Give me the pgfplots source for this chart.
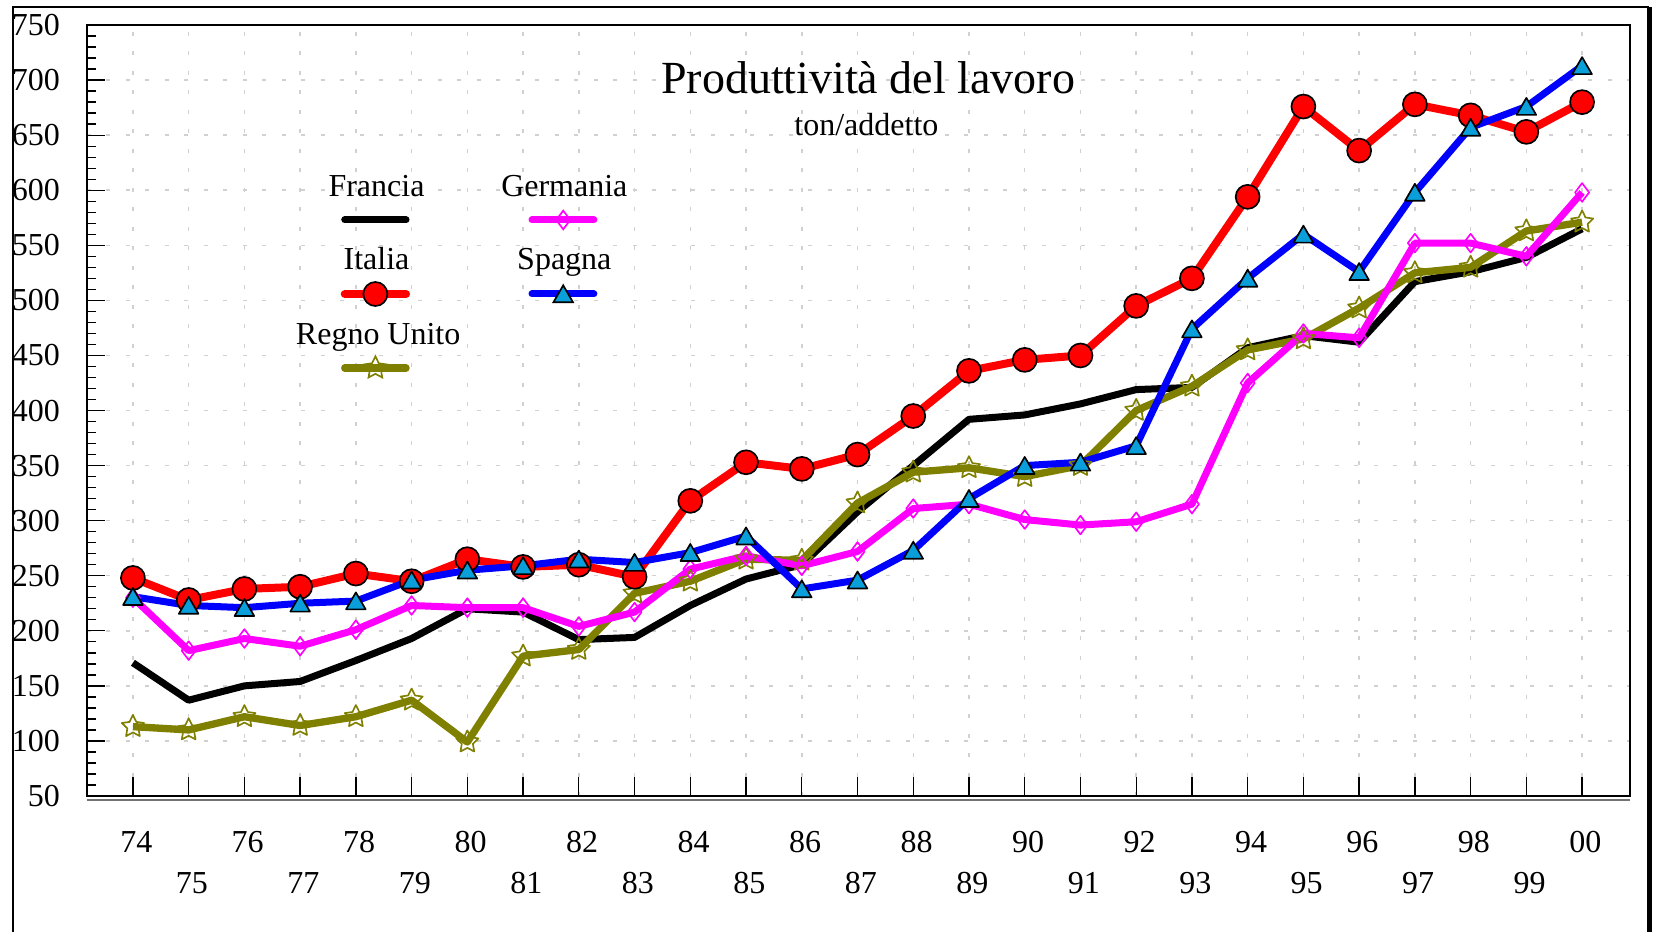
\documentclass[border=0pt]{standalone}
\usepackage{pgfplots}
\pgfplotsset{compat=1.18}
\usepackage{fontspec}
\setmainfont{Liberation Serif}
\definecolor{spfill}{RGB}{10,158,218}
\definecolor{ukolive}{RGB}{128,128,0}
\definecolor{demag}{RGB}{255,0,255}
\pgfdeclareplotmark{ostar}{%
  \pgfpathmoveto{\pgfqpointpolar{90}{\pgfplotmarksize}}%
  \pgfpathlineto{\pgfqpointpolar{126}{0.5\pgfplotmarksize}}%
  \pgfpathlineto{\pgfqpointpolar{162}{\pgfplotmarksize}}%
  \pgfpathlineto{\pgfqpointpolar{198}{0.5\pgfplotmarksize}}%
  \pgfpathlineto{\pgfqpointpolar{234}{\pgfplotmarksize}}%
  \pgfpathlineto{\pgfqpointpolar{270}{0.5\pgfplotmarksize}}%
  \pgfpathlineto{\pgfqpointpolar{306}{\pgfplotmarksize}}%
  \pgfpathlineto{\pgfqpointpolar{342}{0.5\pgfplotmarksize}}%
  \pgfpathlineto{\pgfqpointpolar{18}{\pgfplotmarksize}}%
  \pgfpathlineto{\pgfqpointpolar{54}{0.5\pgfplotmarksize}}%
  \pgfpathclose
  \pgfusepathqstroke}

\begin{document}
\begin{tikzpicture}[font=\fontsize{9.6}{11}\selectfont]
\path[use as bounding box] (-26.0pt,-40.5pt) rectangle (470.8pt,238.8pt);
\begin{axis}[
  scale only axis, width=463pt, height=231.3pt,
  xmin=-0.83, xmax=26.86, ymin=50, ymax=750,
  ytick={50,100,...,750},
  minor y tick num=4,
  xtick={0,2,...,26},
  xticklabels={74,76,78,80,82,84,86,88,90,92,94,96,98,00},
  extra x ticks={1,3,...,25},
  extra x tick labels={75,77,79,81,83,85,87,89,91,93,95,97,99},
  extra x tick style={grid=major, xticklabel style={yshift=-12.2pt}},
  xtick pos=bottom, ytick pos=left,
  tick align=inside,
  major tick length=5.6pt, minor tick length=2.8pt,
  tick style={black, line width=0.4pt},
  grid=major,
  major grid style={draw=black!18, dash pattern=on 1.2pt off 4.65pt, line width=0.45pt},
  axis line style={black, line width=0.5pt},
  /pgf/number format/assume math mode=true,
  every tick label/.append style={font=\fontsize{9.6}{11}\selectfont},
  yticklabel style={anchor=east, xshift=-4.5pt},
  xticklabel style={anchor=center, yshift=-13.8pt, xshift=1pt},
  clip=false,
]
% Francia
\addplot[black, line width=2.1pt, line join=round] coordinates {
(0,171)(1,137)(2,150)(3,154)(4,173)(5,193)(6,220)(7,217)(8,192)(9,194)
(10,223)(11,247)(12,260)(13,308)(14,350)(15,392)(16,396)(17,406)(18,419)(19,421)
(20,457)(21,468)(22,462)(23,517)(24,526)(25,539)(26,565)};
% Regno Unito
\addplot[ukolive, line width=2.2pt, line join=round, mark=ostar, mark size=3.5pt,
  mark options={draw=ukolive, fill=none, line width=0.5pt}] coordinates {
(0,113)(1,110)(2,122)(3,114)(4,122)(5,137)(6,99)(7,177)(8,183)(9,234)
(10,245)(11,265)(12,264)(13,316)(14,344)(15,348)(16,340)(17,350)(18,400)(19,422)
(20,455)(21,465)(22,493)(23,525)(24,530)(25,563)(26,571)};
% Germania
\addplot[demag, line width=2.1pt, line join=round, mark=diamond, mark size=2.8pt,
  mark options={draw=demag, fill=none, line width=0.5pt}] coordinates {
(0,230)(1,182)(2,193)(3,186)(4,201)(5,223)(6,221)(7,221)(8,204)(9,217)
(10,256)(11,268)(12,259)(13,272)(14,311)(15,315)(16,301)(17,296)(18,299)(19,315)
(20,425)(21,470)(22,466)(23,552)(24,552)(25,540)(26,598)};
% Italia
\addplot[red, line width=2.4pt, line join=round, mark=*, mark size=3.6pt,
  mark options={fill=red, draw=black, line width=0.5pt}] coordinates {
(0,248)(1,228)(2,238)(3,240)(4,252)(5,245)(6,265)(7,258)(8,260)(9,249)
(10,318)(11,353)(12,347)(13,360)(14,395)(15,436)(16,446)(17,450)(18,495)(19,520)
(20,594)(21,676)(22,636)(23,678)(24,668)(25,653)(26,680)};
% Spagna
\addplot[blue, line width=2.1pt, line join=round, mark=triangle*, mark size=3.4pt,
  mark options={fill=spfill, draw=black, line width=0.5pt, yshift=-0.8pt}] coordinates {
(0,231)(1,223)(2,221)(3,225)(4,227)(5,246)(6,255)(7,259)(8,265)(9,262)
(10,271)(11,286)(12,238)(13,246)(14,273)(15,320)(16,350)(17,353)(18,368)(19,474)
(20,520)(21,560)(22,526)(23,598)(24,657)(25,676)(26,713)};

% legend samples
\addplot[black, line width=2.1pt, line cap=round] coordinates {(3.80,573)(4.90,573)};
\addplot[demag, line width=2.1pt, line cap=round, mark=diamond, mark size=2.8pt, mark indices={2},
  mark options={draw=demag, fill=white, line width=0.5pt}] coordinates {(7.16,573)(7.72,573)(8.27,573)};
\addplot[red, line width=2.4pt, line cap=round, mark=*, mark size=3.6pt, mark indices={2},
  mark options={fill=red, draw=black, line width=0.5pt}] coordinates {(3.80,505.8)(4.35,505.8)(4.90,505.8)};
\addplot[blue, line width=2.1pt, line cap=round, mark=triangle*, mark size=3.4pt, mark indices={2},
  mark options={fill=spfill, draw=black, line width=0.5pt, yshift=-0.8pt}] coordinates {(7.16,505.8)(7.72,505.8)(8.27,505.8)};
\addplot[ukolive, line width=2.2pt, line cap=round, mark=ostar, mark size=3.5pt, mark indices={2},
  mark options={draw=ukolive, fill=none, line width=0.5pt}] coordinates {(3.80,438.6)(4.35,438.6)(4.90,438.6)};

\node[anchor=base, inner sep=0pt] at (axis cs:4.37,594.7) {Francia};
\node[anchor=base, inner sep=0pt] at (axis cs:7.74,594.7) {Germania};
\node[anchor=base, inner sep=0pt] at (axis cs:4.37,527.6) {Italia};
\node[anchor=base, inner sep=0pt] at (axis cs:7.74,527.6) {Spagna};
\node[anchor=base, inner sep=0pt] at (axis cs:4.40,460.4) {Regno Unito};

\node[anchor=base, inner sep=0pt, font=\fontsize{13.8}{16}\selectfont] at (axis cs:13.19,687.4) {Produttività del lavoro};
\node[anchor=base, inner sep=0pt] at (axis cs:13.16,650.1) {ton/addetto};

\draw[black!55, line width=0.6pt] ([yshift=-1.2pt]rel axis cs:0,0) -- ([yshift=-1.2pt]rel axis cs:1,0);
\end{axis}
\draw[line width=0.6pt] (-22.1pt,-45pt) -- (-22.1pt,236.7pt) -- (468.7pt,236.7pt);
\draw[line width=1.5pt] (468.7pt,236.7pt) -- (468.7pt,-45pt);
\end{tikzpicture}
\end{document}
